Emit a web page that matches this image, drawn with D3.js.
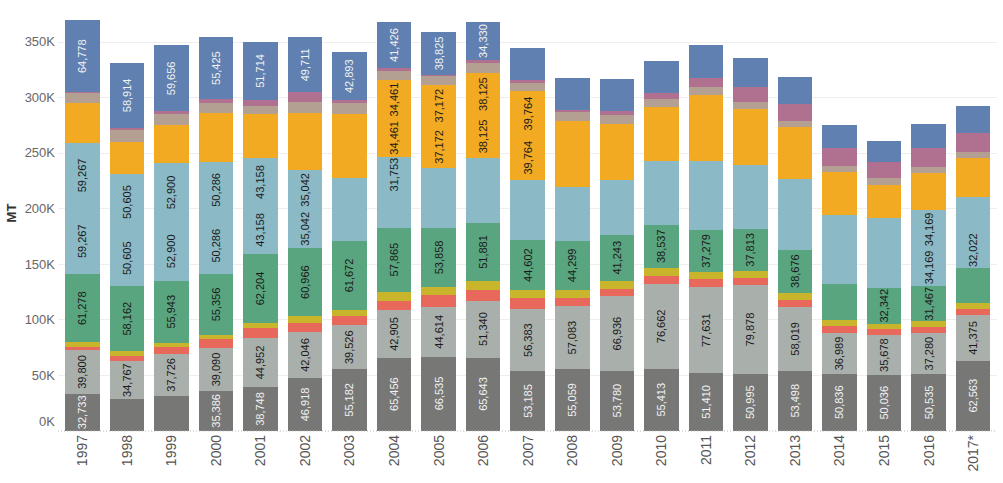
<!DOCTYPE html>
<html>
<head>
<meta charset="utf-8">
<script src="https://cdn.jsdelivr.net/npm/d3@7"></script>
<style>
  html, body { margin: 0; padding: 0; background: #fff; }
  svg { display: block; font-family: "Liberation Sans", Arial, sans-serif; }
</style>
</head>
<body>
<svg id="chart" width="1003" height="483"></svg>
<script>
// ---- data ----
const years = ["1997","1998","1999","2000","2001","2002","2003","2004","2005","2006","2007","2008","2009","2010","2011","2012","2013","2014","2015","2016","2017*"];

const darkGray   = [32733,28000,31200,35386,38748,46918,55182,65456,66535,65643,53185,55059,53780,55413,51410,50995,53498,50836,50036,50535,62563];
const lightGray  = [39800,34767,37726,39090,44952,42046,39526,42905,44614,51340,56383,57083,66936,76662,77631,79878,58019,36989,35678,37280,41375];
const red        = [2400,4300,6500,8000,9000,7800,8500,8500,10500,9800,9500,7200,7000,7000,7500,6800,6000,6300,5900,5500,5100];
const olive      = [4500,4500,3500,3300,4000,6300,5500,8000,7200,8000,7500,7200,7200,7500,6500,6000,6600,5400,4500,5000,6000];
const green      = [61278,58162,55943,55356,62204,60966,61672,57865,53858,51881,44602,44299,41243,38537,37279,37813,38676,32500,32342,31467,31300];
// light blue and orange are each drawn as two equal stacked rows
const lightBlue  = [59267,50605,52900,50286,43158,35042,28600,31753,27000,29500,27250,24400,24800,28600,31000,28550,31900,31050,31600,34169,32022];
const orange     = [17750,14500,17000,22250,19850,25750,28650,34461,37172,38125,39764,29300,25200,24550,30000,25200,23400,19400,14850,16650,17250];
const tan        = [9000,10500,10000,9000,7500,10000,10200,8500,8200,8500,8000,8100,8100,7000,6500,6300,5400,5400,6000,6000,6000];
const pink       = [800,1800,2500,3300,5400,8700,2400,2600,800,3000,2000,2400,3300,5400,8700,13900,14700,15600,14100,17100,17100];
const blue       = [64778,58914,59656,55425,51714,49711,42893,41426,38825,34330,29500,28800,29100,28800,29800,26400,25000,21300,19200,21600,24300];

const yTicks = [0,50000,100000,150000,200000,250000,300000,350000];

// which marks carry a value label
const labelDarkGray  = years.filter(y => y !== "1998" && y !== "1999");
const labelLightGray = years.slice();
const labelGreen     = years.filter(y => y !== "2014" && y !== "2017*");
const labelLB1       = ["1997","1998","1999","2000","2001","2002","2016","2017*"];
const labelLB2       = ["1997","1998","1999","2000","2001","2002","2004","2016"];
const labelOr1       = ["2004","2005","2006","2007"];
const labelOr2       = ["2004","2005","2006","2007"];
const labelBlue      = ["1997","1998","1999","2000","2001","2002","2003","2004","2005","2006"];

// ---- series definition ----
const series = [
  {key:"darkGray",  vals:darkGray,  color:"#777776", text:"#f2f2f2", labels:labelDarkGray},
  {key:"lightGray", vals:lightGray, color:"#a9b0ac", text:"#1a1a1a", labels:labelLightGray},
  {key:"red",       vals:red,       color:"#e8695b", text:"#1a1a1a", labels:[]},
  {key:"olive",     vals:olive,     color:"#c9b52b", text:"#1a1a1a", labels:[]},
  {key:"green",     vals:green,     color:"#59a57f", text:"#1a1a1a", labels:labelGreen},
  {key:"lb1",       vals:lightBlue, color:"#8bb9c5", text:"#1a1a1a", labels:labelLB1},
  {key:"lb2",       vals:lightBlue, color:"#8bb9c5", text:"#1a1a1a", labels:labelLB2},
  {key:"or1",       vals:orange,    color:"#f2aa22", text:"#1a1a1a", labels:labelOr1},
  {key:"or2",       vals:orange,    color:"#f2aa22", text:"#1a1a1a", labels:labelOr2},
  {key:"tan",       vals:tan,       color:"#b4a093", text:"#1a1a1a", labels:[]},
  {key:"pink",      vals:pink,      color:"#b0708f", text:"#1a1a1a", labels:[]},
  {key:"blue",      vals:blue,      color:"#5f80b0", text:"#f2f2f2", labels:labelBlue}
];

const table = years.map((y, i) => {
  const row = {year: y};
  series.forEach(s => row[s.key] = s.vals[i]);
  return row;
});

// ---- layout ----
const svg = d3.select("#chart");
const x = d3.scaleBand().domain(years).range([55, 1000.5]).paddingInner(0.225).paddingOuter(0.225);
const y = d3.scaleLinear().domain([0, 350000]).range([430.5, 41.7]);

// gridlines
svg.append("g").selectAll("line").data(yTicks.filter(d => d > 0)).join("line")
  .attr("x1", 58).attr("x2", 997)
  .attr("y1", d => Math.round(y(d)) + 0.5).attr("y2", d => Math.round(y(d)) + 0.5)
  .attr("stroke", "#eeeeee").attr("stroke-width", 1);

// y axis labels
const yAxis = d3.axisLeft(y).tickValues(yTicks).tickSize(0).tickPadding(0)
  .tickFormat(d => (d / 1000) + "K");
const gy = svg.append("g").attr("transform", "translate(55,0)").call(yAxis);
gy.select(".domain").remove();
gy.selectAll("text").attr("font-size", 13).attr("fill", "#666")
  .attr("font-family", "'Liberation Sans', Arial, sans-serif")
  .attr("dy", d => d === 0 ? "-0.35em" : "0.32em");

// y title
svg.append("text").attr("transform", "translate(16,213) rotate(-90)")
  .attr("text-anchor", "middle").attr("font-size", 13).attr("font-weight", "bold")
  .attr("fill", "#333").text("MT");

// stacked bars
const stack = d3.stack().keys(series.map(s => s.key));
const stacked = stack(table);

const layers = svg.append("g").attr("shape-rendering", "crispEdges")
  .selectAll("g").data(stacked).join("g")
  .attr("fill", (d, i) => series[i].color);
layers.selectAll("rect").data(d => d).join("rect")
  .attr("x", d => x(d.data.year))
  .attr("width", x.bandwidth())
  .attr("y", d => y(d[1]))
  .attr("height", d => y(d[0]) - y(d[1]));

// baseline (dotted)
svg.append("line").attr("x1", 58).attr("x2", 997)
  .attr("y1", y(0) + 0.5).attr("y2", y(0) + 0.5)
  .attr("stroke", "#b8b8b8").attr("stroke-dasharray", "1,2");

// value labels
const fmt = d3.format(",");
const labG = svg.append("g");
stacked.forEach((layer, i) => {
  const s = series[i];
  const pts = layer.filter(d => s.labels.includes(d.data.year));
  labG.append("g").selectAll("text").data(pts).join("text")
    .attr("transform", d => `translate(${x(d.data.year) + x.bandwidth() / 2},${y((d[0] + d[1]) / 2)}) rotate(-90)`)
    .attr("text-anchor", "middle").attr("dy", "0.35em")
    .attr("font-size", 11).attr("fill", s.text)
    .text(d => fmt(d.data[s.key]));
});

// x axis labels
const xAxis = d3.axisBottom(x).tickSize(0).tickPadding(0);
const gx = svg.append("g").attr("transform", "translate(0,435)").call(xAxis);
gx.select(".domain").remove();
gx.selectAll("text")
  .attr("font-size", 14).attr("fill", "#555")
  .attr("font-family", "'Liberation Sans', Arial, sans-serif")
  .attr("text-anchor", "end").attr("dy", "0.35em").attr("y", 0)
  .attr("transform", "rotate(-90)");
</script>
</body>
</html>
